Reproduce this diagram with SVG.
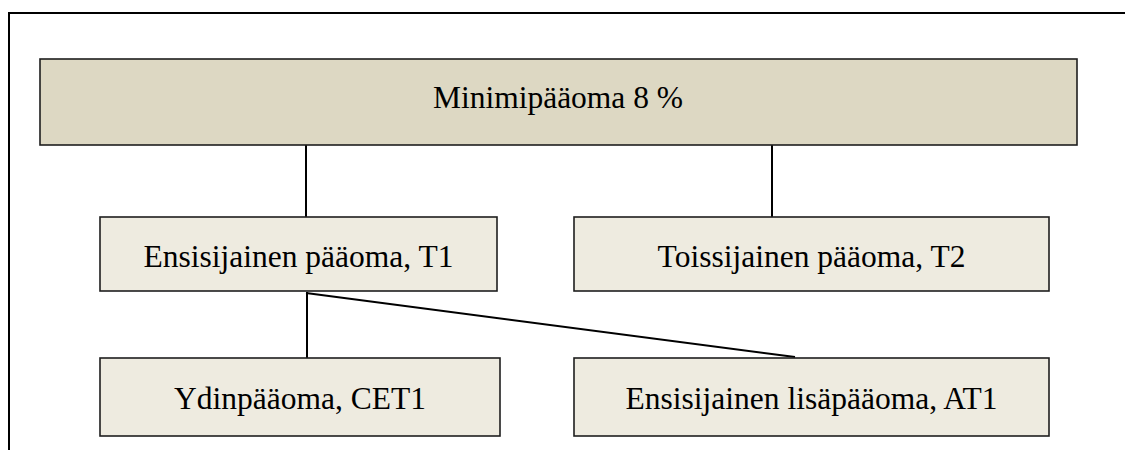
<svg xmlns="http://www.w3.org/2000/svg" width="1125" height="450" viewBox="0 0 1125 450">
  <style>
    .frame { fill: none; stroke: #000; stroke-width: 2; }
    .box { stroke: #1e1e1e; stroke-width: 1.6; }
    .top { fill: #ddd8c3; }
    .sub { fill: #eeebe0; }
    .lbl { font-family: "Liberation Serif", "Times New Roman", serif; font-size: 31.5px; fill: #000; text-anchor: middle; }
    .link { stroke: #000; stroke-width: 2; fill: none; }
  </style>

  <!-- page frame -->
  <path class="frame" d="M9,450 V13 H1125"/>

  <!-- connectors -->
  <g id="connectors">
    <line class="link" x1="306" y1="145" x2="306" y2="217"/>
    <line class="link" x1="772" y1="145" x2="772" y2="217"/>
    <line class="link" x1="307" y1="292" x2="307" y2="358"/>
    <line class="link" x1="306" y1="293" x2="795" y2="357"/>
  </g>

  <g id="minimi">
    <rect class="box top" x="40" y="59" width="1037" height="86"/>
    <text class="lbl" x="558" y="108">Minimipääoma 8 %</text>
  </g>

  <g id="t1">
    <rect class="box sub" x="100" y="217" width="397" height="74"/>
    <text class="lbl" x="298.5" y="267">Ensisijainen pääoma, T1</text>
  </g>

  <g id="t2">
    <rect class="box sub" x="574" y="217" width="475" height="74"/>
    <text class="lbl" x="811.5" y="266.5">Toissijainen pääoma, T2</text>
  </g>

  <g id="cet1">
    <rect class="box sub" x="100" y="358" width="400" height="78"/>
    <text class="lbl" x="300" y="409">Ydinpääoma, CET1</text>
  </g>

  <g id="at1">
    <rect class="box sub" x="574" y="358" width="475" height="78"/>
    <text class="lbl" x="811.5" y="409">Ensisijainen lisäpääoma, AT1</text>
  </g>
</svg>
